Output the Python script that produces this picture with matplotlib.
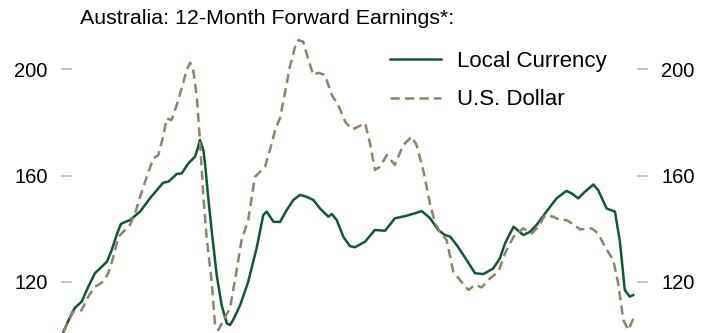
import numpy as np
import matplotlib
matplotlib.use('Agg')
import matplotlib.pyplot as plt

plt.rcParams['font.family'] = ['Liberation Sans', 'DejaVu Sans']

# forward earnings index, local currency (decimal year, value)
local_t = [2004.54, 2004.78, 2004.87, 2005.06, 2005.25, 2005.44, 2005.63, 2005.78, 2005.92,
           2006.06, 2006.18, 2006.30, 2006.44, 2006.73, 2007.01, 2007.39, 2007.54, 2007.78,
           2007.92, 2008.11, 2008.30, 2008.39, 2008.44, 2008.54, 2008.59, 2008.68, 2008.78,
           2008.92, 2009.06, 2009.21, 2009.30, 2009.39, 2009.59, 2009.82, 2010.06, 2010.25,
           2010.35, 2010.54, 2010.73, 2010.92, 2011.11, 2011.30, 2011.49, 2011.68, 2011.87,
           2012.11, 2012.21, 2012.35, 2012.54, 2012.73, 2012.87, 2013.16, 2013.44, 2013.73,
           2014.01, 2014.30, 2014.59, 2014.78, 2015.01, 2015.25, 2015.44, 2015.59, 2015.78,
           2016.06, 2016.30, 2016.54, 2016.82, 2017.01, 2017.16, 2017.40, 2017.68, 2017.87,
           2018.06, 2018.34, 2018.63, 2018.91, 2019.06, 2019.25, 2019.44, 2019.68, 2019.82,
           2020.06, 2020.30, 2020.44, 2020.58, 2020.72, 2020.82]
local_v = [101.2, 108.1, 110.2, 112.5, 118.1, 123.2, 125.6, 127.5, 131.9,
           137.6, 141.7, 142.5, 143.2, 146.4, 151.4, 157.3, 157.7, 160.6,
           160.8, 164.6, 167.1, 170.8, 173.4, 169.6, 164.0, 151.4, 138.8,
           122.5, 111.2, 104.3, 103.7, 105.6, 111.2, 120.0, 132.6, 145.1,
           146.4, 142.6, 142.5, 147.0, 150.8, 152.7, 152.0, 150.8, 147.6,
           144.5, 145.5, 143.2, 136.9, 133.4, 133.0, 135.1, 139.5, 139.2,
           143.9, 144.7, 145.8, 146.6, 144.0, 139.5, 137.6, 137.0, 133.8,
           128.2, 123.2, 122.9, 125.0, 128.8, 134.5, 140.7, 137.6, 138.8,
           141.4, 146.4, 151.4, 154.2, 153.3, 151.4, 153.9, 156.6, 154.5,
           147.6, 146.4, 135.1, 116.9, 114.4, 115.0]

# same index in U.S. dollars
usd_t = [2004.54, 2004.82, 2005.06, 2005.25, 2005.44, 2005.68, 2005.82, 2005.97, 2006.11,
         2006.30, 2006.44, 2006.59, 2006.73, 2006.92, 2007.11, 2007.25, 2007.39, 2007.49,
         2007.63, 2007.78, 2007.92, 2008.06, 2008.16, 2008.25, 2008.35, 2008.44, 2008.54,
         2008.63, 2008.78, 2008.87, 2008.97, 2009.11, 2009.30, 2009.49, 2009.63, 2009.82,
         2010.01, 2010.16, 2010.30, 2010.44, 2010.59, 2010.73, 2010.87, 2011.01, 2011.16,
         2011.25, 2011.39, 2011.54, 2011.68, 2011.82, 2012.01, 2012.21, 2012.39, 2012.59,
         2012.78, 2012.87, 2013.16, 2013.30, 2013.44, 2013.59, 2013.78, 2014.01, 2014.25,
         2014.49, 2014.63, 2014.82, 2015.01, 2015.16, 2015.30, 2015.49, 2015.68, 2015.87,
         2016.11, 2016.30, 2016.49, 2016.73, 2016.97, 2017.16, 2017.40, 2017.68, 2017.92,
         2018.11, 2018.30, 2018.54, 2018.73, 2018.92, 2019.11, 2019.30, 2019.63, 2019.82,
         2020.01, 2020.25, 2020.39, 2020.54, 2020.68, 2020.87]
usd_v = [101.2, 108.7, 109.3, 114.4, 118.1, 120.0, 123.2, 129.4, 136.9,
         139.5, 141.4, 145.8, 152.0, 159.5, 166.5, 167.7, 174.6, 181.5,
         180.9, 186.6, 192.8, 199.7, 202.5, 199.7, 189.7, 173.4, 152.0,
         137.0, 119.4, 104.3, 101.8, 105.6, 110.0, 124.4, 135.7, 143.2,
         159.5, 161.4, 163.3, 169.6, 177.1, 181.7, 191.0, 201.0, 208.5,
         211.0, 210.4, 203.5, 197.9, 198.7, 197.9, 190.3, 186.6, 180.3,
         177.4, 177.8, 179.7, 172.1, 162.1, 163.3, 167.7, 164.0, 171.5,
         174.6, 171.5, 162.1, 149.6, 142.0, 138.8, 135.7, 123.8, 120.6,
         116.9, 118.8, 117.9, 121.3, 123.8, 130.8, 136.9, 140.1, 138.2,
         140.7, 145.1, 144.5, 143.2, 143.2, 141.6, 139.7, 140.1, 138.2,
         133.2, 128.2, 119.4, 105.6, 101.8, 107.5]

yticks = [120, 160, 200]

green = '#0a5a36'
tan = '#8f8369'
tick_col = '#cdc5b1'

fig = plt.figure(figsize=(7.14, 3.33), dpi=100)
ax = fig.add_axes([61 / 714, 0, 587 / 714, 1])

ax.plot(local_t, local_v, color=green, lw=1.8, label='Local Currency',
        solid_joinstyle='round')
ax.plot(usd_t, usd_v, color=tan, lw=1.8, dashes=(3.7, 2.1), label='U.S. Dollar',
        dash_joinstyle='round')

ax.set_xlim(2004.471, 2021.243)
ax.set_ylim(100.7, 226.1)

for s in ax.spines.values():
    s.set_visible(False)
ax.xaxis.set_visible(False)
ax.set_yticks(yticks)
ax.tick_params(axis='y', left=True, right=True, labelleft=True, labelright=True,
               direction='in', length=7.8, width=1.4, color=tick_col,
               pad=9.5, labelsize=14.5, labelcolor='black')

fig.text(80 / 714, 1 - 18 / 333, 'Australia: 12-Month Forward Earnings*:',
         fontsize=15.4, va='center', ha='left')

ax.legend(loc='upper left', bbox_to_anchor=(390 / 714, 1 - 51 / 333),
          bbox_transform=fig.transFigure, frameon=False, fontsize=16,
          handlelength=2.3, handletextpad=0.7, labelspacing=0.78,
          borderaxespad=0, borderpad=0)

fig.savefig('out.png', dpi=100)
